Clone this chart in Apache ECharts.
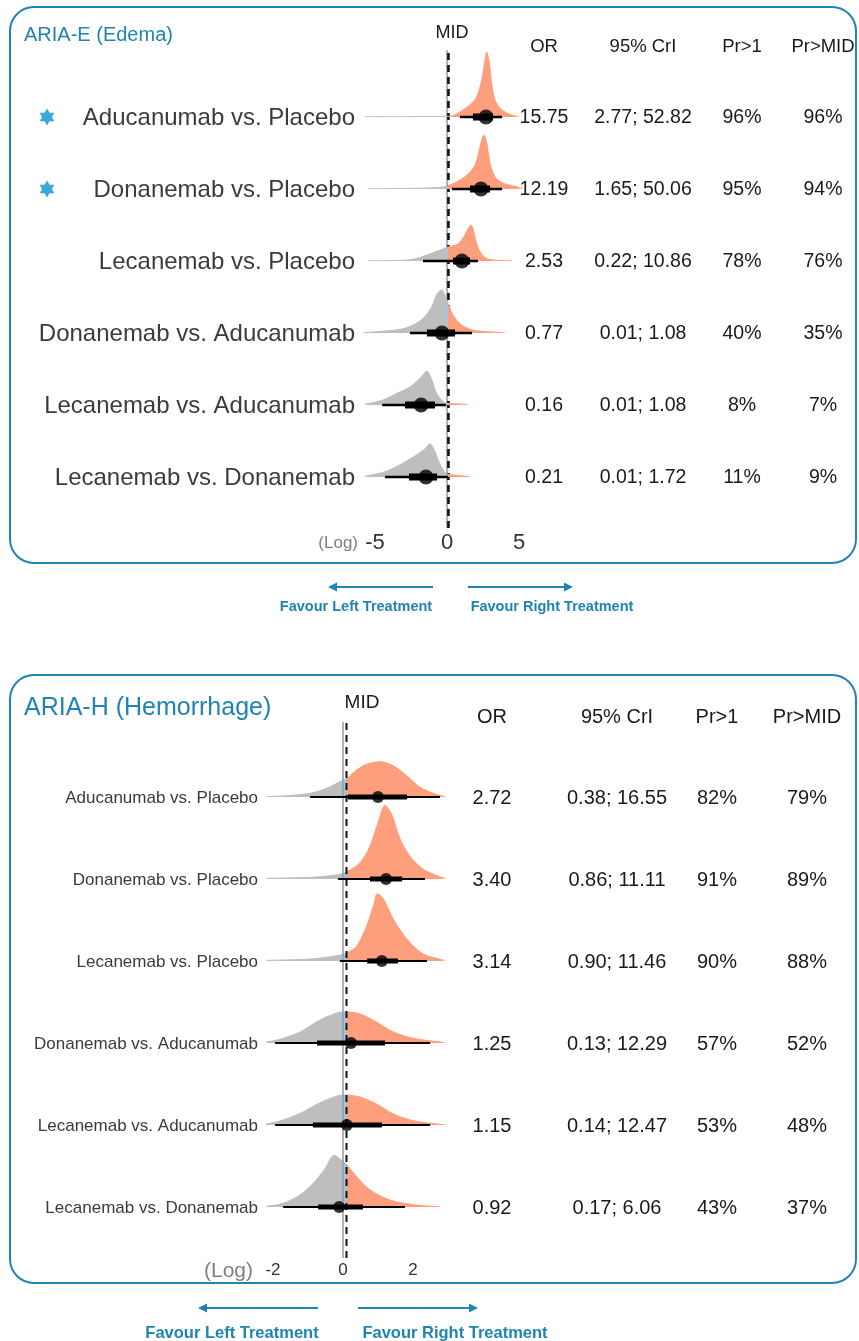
<!DOCTYPE html>
<html><head><meta charset="utf-8">
<script src="https://cdn.jsdelivr.net/npm/echarts@6/dist/echarts.min.js"></script>
<style>html,body{margin:0;padding:0;background:#fff}#c{width:859px;height:1341px}</style>
</head><body><div id="c"></div>
<script>
// ---------- DATA ----------
const MID_LOG = 0.1;               // minimal important difference on log-OR scale
const headers = ['OR', '95% CrI', 'Pr>1', 'Pr>MID'];
const comparisons = ['Aducanumab vs. Placebo', 'Donanemab vs. Placebo', 'Lecanemab vs. Placebo',
  'Donanemab vs. Aducanumab', 'Lecanemab vs. Aducanumab', 'Lecanemab vs. Donanemab'];

// ARIA-E (Edema)
const eStar = [true, true, false, false, false, false];
const eOR = ['15.75', '12.19', '2.53', '0.77', '0.16', '0.21'];
const eCrI = ['2.77; 52.82', '1.65; 50.06', '0.22; 10.86', '0.01; 1.08', '0.01; 1.08', '0.01; 1.72'];
const ePr1 = ['96%', '95%', '78%', '40%', '8%', '11%'];
const ePrMID = ['96%', '94%', '76%', '35%', '7%', '9%'];
const eMedian = [2.71, 2.36, 1.04, -0.35, -1.8, -1.46];
const eInt95 = [[0.9, 3.82], [0.35, 3.82], [-1.67, 2.15], [-2.57, 1.74], [-4.5, -0.07], [-4.3, 0.07]];
const eInt66 = [[1.8, 3.19], [1.6, 2.99], [0.42, 1.6], [-1.39, 0.56], [-2.92, -0.83], [-2.64, -0.69]];
const eTicks = [-5, 0, 5];
// ridge densities: [log OR, relative height]
const eDens1 = [[-5.7,0.004],[-3,0.005],[-1,0.006],[0.2,0.008],[0.9,0.07],[1.6,0.17],[2.06,0.28],[2.41,0.51],[2.64,0.79],[2.76,0.90],[2.94,0.75],[3.10,0.47],[3.33,0.24],[3.68,0.125],[4.15,0.055],[4.72,0.014],[5.0,0.004]];
const eDens2 = [[-5.5,0.004],[-2,0.01],[-0.14,0.032],[0.67,0.10],[1.37,0.19],[1.94,0.33],[2.24,0.54],[2.41,0.68],[2.57,0.75],[2.76,0.64],[2.99,0.36],[3.33,0.17],[3.91,0.08],[4.84,0.032],[5.28,0.01]];
const eDens3 = [[-5.5,0.004],[-3,0.01],[-2.2,0.03],[-1.4,0.083],[-0.5,0.15],[0,0.19],[0.6,0.22],[0.9,0.26],[1.2,0.35],[1.5,0.46],[1.67,0.50],[1.85,0.42],[2.0,0.28],[2.3,0.125],[2.7,0.04],[3.2,0.014],[4.5,0.004]];
const eDens4 = [[-5.8,0.005],[-4.9,0.018],[-3.26,0.05],[-2.36,0.11],[-1.67,0.20],[-1.06,0.36],[-0.72,0.53],[-0.37,0.60],[-0.14,0.53],[-0.02,0.46],[0.42,0.25],[1.02,0.11],[1.8,0.04],[2.76,0.018],[4,0.005]];
const eDens5 = [[-5.7,0.01],[-4.44,0.07],[-3.5,0.16],[-2.57,0.25],[-1.875,0.37],[-1.40,0.47],[-1.06,0.35],[-0.72,0.16],[-0.26,0.046],[-0.07,0.024],[0.9,0.014],[1.46,0.005]];
const eDens6 = [[-5.7,0.01],[-4.3,0.074],[-3.26,0.17],[-2.33,0.28],[-1.63,0.375],[-1.18,0.46],[-0.83,0.35],[-0.49,0.18],[-0.07,0.05],[0.42,0.028],[1.1,0.014],[1.6,0.004]];

// ARIA-H (Hemorrhage)
const hOR = ['2.72', '3.40', '3.14', '1.25', '1.15', '0.92'];
const hCrI = ['0.38; 16.55', '0.86; 11.11', '0.90; 11.46', '0.13; 12.29', '0.14; 12.47', '0.17; 6.06'];
const hPr1 = ['82%', '91%', '90%', '57%', '53%', '43%'];
const hPrMID = ['79%', '89%', '88%', '52%', '48%', '37%'];
const hMedian = [1.0, 1.23, 1.11, 0.23, 0.11, -0.11];
const hInt95 = [[-0.94, 2.77], [-0.14, 2.34], [-0.09, 2.4], [-1.94, 2.49], [-1.94, 2.49], [-1.71, 1.77]];
const hInt66 = [[0.14, 1.83], [0.77, 1.69], [0.69, 1.57], [-0.74, 1.2], [-0.86, 1.11], [-0.71, 0.57]];
const hTicks = [-2, 0, 2];
const hDens1 = [[-2.2,0.004],[-1.61,0.016],[-0.94,0.045],[-0.47,0.106],[0.01,0.207],[0.12,0.228],[0.39,0.33],[0.68,0.40],[1.06,0.43],[1.44,0.38],[1.82,0.26],[2.2,0.12],[2.58,0.045],[2.82,0.012],[2.92,0.004]];
const hDens2 = [[-2.2,0.008],[-0.94,0.02],[-0.18,0.05],[0.12,0.09],[0.49,0.20],[0.77,0.40],[1.01,0.70],[1.2,0.90],[1.39,0.79],[1.63,0.49],[1.91,0.28],[2.29,0.12],[2.82,0.02],[2.92,0.01]];
const hDens3 = [[-2.2,0.008],[-0.94,0.024],[-0.18,0.065],[0.12,0.1],[0.39,0.18],[0.68,0.43],[0.87,0.67],[0.98,0.82],[1.15,0.76],[1.44,0.51],[1.82,0.27],[2.29,0.085],[2.82,0.016],[2.92,0.008]];
const hDens4 = [[-2.2,0.012],[-1.8,0.045],[-1.23,0.134],[-0.66,0.28],[-0.18,0.366],[0.09,0.38],[0.49,0.354],[0.96,0.256],[1.44,0.134],[2.01,0.057],[2.77,0.012],[2.92,0.006]];
const hDens5 = [[-2.2,0.012],[-1.8,0.049],[-1.23,0.14],[-0.66,0.27],[-0.18,0.354],[0.06,0.366],[0.49,0.34],[0.96,0.256],[1.44,0.134],[2.01,0.052],[2.77,0.008],[2.92,0.004]];
const hDens6 = [[-2.2,0.008],[-1.71,0.045],[-1.23,0.146],[-0.85,0.29],[-0.51,0.47],[-0.26,0.63],[-0.04,0.57],[0.12,0.51],[0.39,0.37],[0.77,0.21],[1.34,0.085],[2.1,0.024],[2.77,0.004]];

// ---------- LAYOUT / STYLE ----------
const FONT = '"Liberation Sans", Arial, Helvetica, sans-serif';
const TEAL = '#1f84b3';
const C_LEFT = '#bebebe', C_MID = '#87cefa', C_RIGHT = '#fd9f7d';

const panels = [
  { title: 'ARIA-E (Edema)', star: eStar, or: eOR, crI: eCrI, pr1: ePr1, prMID: ePrMID,
    med: eMedian, i95: eInt95, i66: eInt66, ticks: eTicks,
    dens: [eDens1, eDens2, eDens3, eDens4, eDens5, eDens6],
    L: { xMin: -6, xMax: 5.5, zeroPx: 447, ppu: 14.4, base0: 117, step: 72, axisTop: 50, axisBottom: 528,
      labelX: 355, labelFont: 24, starX: 47, starR: 8.5, cols: [544, 643, 742, 823], headY: 47, headFont: 18.5, valFont: 19.5,
      midX: 452, midY: 33, midFont: 18, titleX: 24, titleY: 35, titleFont: 20,
      tickFont: 22, tickMargin: 4, logX: 358, logY: 543, logFont: 17,
      thinW: 2.6, thickW: 7, dot: 15, linesOnTop: false,
      box: [10, 7, 846, 556],
      arrY: 587, arrTextY: 607, arrFont: 14.5, arrLeft: [433, 328], arrRight: [468, 573], txtLeft: 356, txtRight: 552 } },
  { title: 'ARIA-H (Hemorrhage)', star: null, or: hOR, crI: hCrI, pr1: hPr1, prMID: hPrMID,
    med: hMedian, i95: hInt95, i66: hInt66, ticks: hTicks,
    dens: [hDens1, hDens2, hDens3, hDens4, hDens5, hDens6],
    L: { xMin: -2.4, xMax: 3.0, zeroPx: 343, ppu: 35, base0: 797, step: 82, axisTop: 722, axisBottom: 1258,
      labelX: 258, labelFont: 17, cols: [492, 617, 717, 807], headY: 717, headFont: 20, valFont: 20,
      midX: 362, midY: 703, midFont: 19, titleX: 24, titleY: 708, titleFont: 25,
      tickFont: 17, tickMargin: 4, logX: 253, logY: 1271, logFont: 21,
      thinW: 2.2, thickW: 5, dot: 12, linesOnTop: true,
      box: [10, 675, 846, 608],
      arrY: 1308, arrTextY: 1333, arrFont: 16.5, arrLeft: [318, 198], arrRight: [358, 478], txtLeft: 232, txtRight: 455 } }
];

// ---------- BUILD ----------
const grids = [], xAxes = [], yAxes = [], series = [], densIdx = [], graphics = [];
function txt(x, y, text, font, color, align, weight) {
  graphics.push({ type: 'text', x: x, y: y, silent: true, z: 10,
    style: { text: text, fill: color, font: (weight || 'normal') + ' ' + font + 'px ' + FONT,
      align: align || 'center', verticalAlign: 'middle' } });
}
function hexagram(cx, cy, r, color) {
  const c = Math.cos(Math.PI / 6) * r;
  [[[cx, cy - r], [cx + c, cy + r / 2], [cx - c, cy + r / 2]],
   [[cx, cy + r], [cx + c, cy - r / 2], [cx - c, cy - r / 2]]].forEach(function (pts) {
    graphics.push({ type: 'polygon', silent: true, z: 10, shape: { points: pts }, style: { fill: color } });
  });
}

panels.forEach(function (p) {
  const L = p.L;
  const left = L.zeroPx + L.xMin * L.ppu, width = (L.xMax - L.xMin) * L.ppu;

  // frame
  graphics.push({ type: 'rect', silent: true, z: 0,
    shape: { x: L.box[0], y: L.box[1], width: L.box[2], height: L.box[3], r: 24 },
    style: { fill: 'none', stroke: TEAL, lineWidth: 2 } });
  txt(L.titleX, L.titleY, p.title, L.titleFont, TEAL, 'left');
  txt(L.midX, L.midY, 'MID', L.midFont, '#1a1a1a');
  headers.forEach(function (h, k) { txt(L.cols[k], L.headY, h, L.headFont, '#1a1a1a'); });
  txt(L.logX, L.logY, '(Log)', L.logFont, '#7f7f7f', 'right');

  // axis grid (ticks + reference lines)
  const ag = grids.length;
  grids.push({ left: left, width: width, top: L.axisTop, height: L.axisBottom - L.axisTop });
  xAxes.push({ type: 'value', gridIndex: ag, min: L.xMin, max: L.xMax,
    axisLine: { show: false }, axisTick: { show: false }, splitLine: { show: false },
    axisLabel: { customValues: p.ticks, margin: L.tickMargin, fontSize: L.tickFont, color: '#333', fontFamily: FONT } });
  yAxes.push({ type: 'value', gridIndex: ag, min: 0, max: 1, show: false });
  const refZ = L.linesOnTop ? 4 : 1;
  series.push({ type: 'line', xAxisIndex: ag, yAxisIndex: ag, data: [[0, 0], [0, 1]], symbol: 'none', silent: true,
    lineStyle: { color: '#9a9a9a', width: 1.5 }, z: refZ, animation: false });
  series.push({ type: 'line', xAxisIndex: ag, yAxisIndex: ag, data: [[MID_LOG, 0], [MID_LOG, 1]], symbol: 'none', silent: true,
    lineStyle: { color: '#111', width: L.linesOnTop ? 2 : 2.6, type: [7, 5] }, z: refZ + 0.1, animation: false });

  comparisons.forEach(function (name, i) {
    const base = L.base0 + i * L.step;
    const g = grids.length;
    grids.push({ left: left, width: width, top: base - L.step, height: L.step });
    xAxes.push({ type: 'value', gridIndex: g, min: L.xMin, max: L.xMax, show: false });
    yAxes.push({ type: 'value', gridIndex: g, min: 0, max: 1, show: false });

    densIdx.push(series.length);
    series.push({ type: 'line', xAxisIndex: g, yAxisIndex: g, data: p.dens[i], smooth: 0.3, symbol: 'none',
      silent: true, lineStyle: { width: 1 }, areaStyle: { opacity: 1 }, z: 2, animation: false });
    series.push({ type: 'line', xAxisIndex: g, yAxisIndex: g, data: [[p.i95[i][0], 0], [p.i95[i][1], 0]], symbol: 'none',
      clip: false, silent: true, lineStyle: { color: '#000', width: L.thinW, cap: 'butt' }, z: 5, animation: false });
    series.push({ type: 'line', xAxisIndex: g, yAxisIndex: g, data: [[p.i66[i][0], 0], [p.i66[i][1], 0]], symbol: 'none',
      clip: false, silent: true, lineStyle: { color: '#000', width: L.thickW, cap: 'butt' }, z: 5.1, animation: false });
    series.push({ type: 'scatter', xAxisIndex: g, yAxisIndex: g, data: [[p.med[i], 0]], symbolSize: L.dot,
      clip: false, silent: true, itemStyle: { color: '#000' }, z: 6, animation: false });

    // row texts
    txt(L.labelX, base + 1, name, L.labelFont, '#3b3b3b', 'right');
    if (p.star && p.star[i]) hexagram(L.starX, base, L.starR, '#3aa6de');
    [p.or[i], p.crI[i], p.pr1[i], p.prMID[i]].forEach(function (v, k) {
      txt(L.cols[k], base + 1, v, L.valFont, '#1a1a1a');
    });
  });

  // direction arrows
  [[L.arrLeft, L.txtLeft, 'Favour Left Treatment'], [L.arrRight, L.txtRight, 'Favour Right Treatment']].forEach(function (a) {
    const x1 = a[0][0], x2 = a[0][1], dir = x2 > x1 ? 1 : -1, y = L.arrY;
    graphics.push({ type: 'line', silent: true, shape: { x1: x1, y1: y, x2: x2 - dir * 6, y2: y },
      style: { stroke: TEAL, lineWidth: 2 } });
    graphics.push({ type: 'polygon', silent: true,
      shape: { points: [[x2, y], [x2 - dir * 9, y - 4.5], [x2 - dir * 9, y + 4.5]] }, style: { fill: TEAL } });
    txt(a[1], L.arrTextY, a[2], L.arrFont, TEAL, 'center', 'bold');
  });
});

const option = {
  backgroundColor: '#fff',
  animation: false,
  grid: grids, xAxis: xAxes, yAxis: yAxes, series: series,
  visualMap: [{ type: 'piecewise', show: false, dimension: 0, seriesIndex: densIdx,
    pieces: [{ lt: 0, color: C_LEFT }, { gte: 0, lt: MID_LOG, color: C_MID }, { gte: MID_LOG, color: C_RIGHT }],
    outOfRange: { color: C_RIGHT } }],
  graphic: graphics
};
const chart = echarts.init(document.getElementById('c'), null, { renderer: 'canvas', width: 859, height: 1341 });
chart.setOption(option);
</script></body></html>
